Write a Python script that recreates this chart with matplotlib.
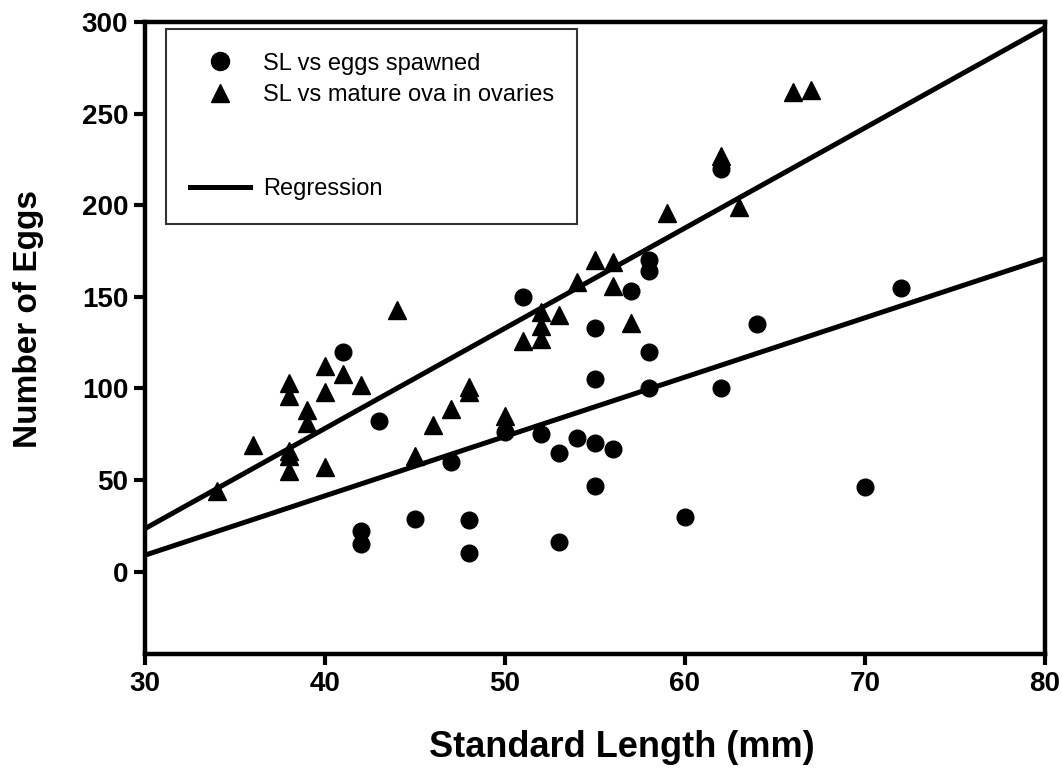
import numpy as np
import matplotlib
matplotlib.use('Agg')
import matplotlib.pyplot as plt
from matplotlib.lines import Line2D

# SL vs eggs spawned (circles)
eggs_sl = [41, 43, 47, 42, 42, 45, 48, 48, 51, 58, 58, 57, 55, 58, 55, 58, 62,
           50, 52, 53, 54, 55, 56, 55, 53, 60, 72, 64, 70, 62]
eggs_n = [120, 82, 60, 22, 15, 29, 28, 10, 150, 170, 164, 153, 133, 120, 105, 100, 100,
          76, 75, 65, 73, 70, 67, 47, 16, 30, 155, 135, 46, 220]

# SL vs mature ova in ovaries (triangles)
ova_sl = [34, 36, 38, 38, 38, 38, 38, 39, 39, 40, 40, 40, 41, 42, 44, 45, 46, 47,
          48, 48, 50, 51, 52, 52, 52, 53, 54, 55, 56, 56, 57, 59, 62, 63, 66, 67]
ova_n = [44, 69, 103, 96, 66, 63, 55, 88, 81, 112, 98, 57, 108, 102, 143, 63, 80, 89,
         101, 98, 85, 126, 142, 134, 127, 140, 158, 170, 169, 156, 136, 196, 227, 199, 262, 263]

# regression lines (ends at x=30 and x=80)
reg_x = [30, 80]
reg_ova = [23.5, 297]
reg_eggs = [9, 171]

plt.rcParams['font.family'] = ['Liberation Sans', 'DejaVu Sans']

fig = plt.figure(figsize=(10.62, 7.75), dpi=100)
ax = fig.add_axes([0.1365, 0.156, 0.8475, 0.8155])

ax.plot(reg_x, reg_ova, color='black', lw=3.6, solid_capstyle='butt', zorder=2)
ax.plot(reg_x, reg_eggs, color='black', lw=3.6, solid_capstyle='butt', zorder=2)
ax.plot(eggs_sl, eggs_n, 'o', color='black', ms=12, zorder=3)
ax.plot(ova_sl, ova_n, '^', color='black', ms=13, zorder=3)

ax.set_xlim(30, 80)
ax.set_ylim(-45, 300)
ax.set_xticks(np.arange(30, 81, 10))
ax.set_yticks(np.arange(0, 301, 50))

for s in ax.spines.values():
    s.set_linewidth(3.2)
ax.tick_params(direction='out', length=8, width=3, pad=4)
for lab in ax.get_xticklabels() + ax.get_yticklabels():
    lab.set_fontweight('bold')
    lab.set_fontsize(20)

ax.set_xlabel('Standard Length (mm)', fontsize=26, fontweight='bold')
ax.xaxis.set_label_coords(0.53, -0.12)
ax.set_ylabel('Number of Eggs', fontsize=24, fontweight='bold')
ax.yaxis.set_label_coords(-0.112, 0.53)

handles = [
    Line2D([], [], ls='none', marker='o', color='black', ms=13),
    Line2D([], [], ls='none', marker='^', color='black', ms=13),
    Line2D([], [], ls='none', marker=None),
    Line2D([], [], ls='none', marker=None),
    Line2D([], [], color='black', lw=3.6),
]
labels = ['SL vs eggs spawned', 'SL vs mature ova in ovaries', ' ', ' ', 'Regression']
leg = ax.legend(handles, labels, loc='upper left', bbox_to_anchor=(0.0233, 0.989),
                fontsize=17, frameon=True, fancybox=False, edgecolor='black',
                handlelength=2.55, borderpad=1.0, labelspacing=0.4, handletextpad=0.55,
                borderaxespad=0)
leg.get_frame().set_linewidth(1.5)

fig.savefig('out.png', dpi=100)
